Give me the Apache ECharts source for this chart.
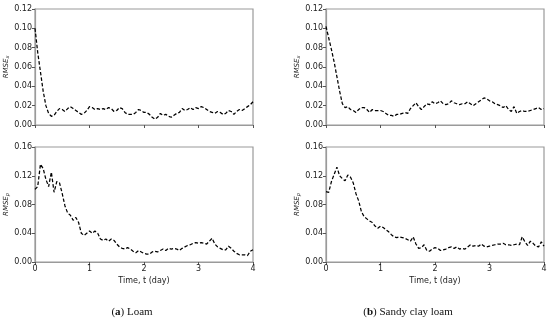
<!DOCTYPE html>
<html><head><meta charset="utf-8">
<script src="https://cdn.jsdelivr.net/npm/echarts@6/dist/echarts.min.js"></script>
<style>html,body{margin:0;padding:0;background:#fff}#c{width:550px;height:320px}</style>
</head><body><div id="c"></div>
<script>
var T = [0,0.05,0.1,0.15,0.2,0.25,0.3,0.35,0.4,0.45,0.5,0.55,0.6,0.65,0.7,0.75,0.8,0.85,0.9,0.95,
1,1.05,1.1,1.15,1.2,1.25,1.3,1.35,1.4,1.45,1.5,1.55,1.6,1.65,1.7,1.75,1.8,1.85,1.9,1.95,
2,2.05,2.1,2.15,2.2,2.25,2.3,2.35,2.4,2.45,2.5,2.55,2.6,2.65,2.7,2.75,2.8,2.85,2.9,2.95,
3,3.05,3.1,3.15,3.2,3.25,3.3,3.35,3.4,3.45,3.5,3.55,3.6,3.65,3.7,3.75,3.8,3.85,3.9,3.95,4];

var loamX = [0.100,0.075,0.055,0.035,0.020,0.012,0.009,0.010,0.014,0.017,0.016,0.014,0.017,0.019,0.017,0.015,0.013,0.011,0.012,0.015,
0.019,0.018,0.016,0.017,0.016,0.017,0.016,0.018,0.017,0.014,0.015,0.018,0.017,0.013,0.011,0.011,0.011,0.013,0.016,0.015,
0.013,0.013,0.011,0.008,0.006,0.008,0.012,0.010,0.011,0.009,0.008,0.010,0.012,0.013,0.017,0.015,0.016,0.018,0.016,0.018,
0.017,0.019,0.018,0.016,0.014,0.013,0.012,0.014,0.013,0.011,0.012,0.015,0.014,0.011,0.014,0.016,0.015,0.017,0.019,0.021,0.024];

var sandyX = [0.102,0.090,0.078,0.065,0.050,0.035,0.022,0.018,0.019,0.016,0.015,0.013,0.016,0.018,0.018,0.016,0.013,0.016,0.015,0.015,
0.015,0.014,0.012,0.010,0.010,0.009,0.011,0.011,0.012,0.013,0.012,0.017,0.020,0.023,0.019,0.016,0.019,0.022,0.021,0.024,
0.022,0.023,0.025,0.022,0.021,0.022,0.025,0.023,0.022,0.021,0.022,0.022,0.024,0.022,0.020,0.022,0.024,0.026,0.028,0.027,
0.025,0.024,0.022,0.021,0.020,0.018,0.020,0.016,0.014,0.019,0.012,0.014,0.015,0.014,0.014,0.015,0.016,0.017,0.018,0.016,0.017];

var loamP = [0.101,0.105,0.136,0.130,0.115,0.105,0.125,0.097,0.112,0.110,0.095,0.078,0.068,0.065,0.058,0.062,0.055,0.040,0.037,0.040,
0.043,0.040,0.043,0.040,0.032,0.030,0.032,0.029,0.032,0.030,0.025,0.021,0.019,0.018,0.020,0.018,0.015,0.013,0.016,0.014,
0.012,0.011,0.011,0.014,0.015,0.014,0.016,0.018,0.016,0.019,0.018,0.019,0.018,0.016,0.019,0.021,0.023,0.024,0.026,0.027,
0.026,0.027,0.026,0.025,0.029,0.033,0.025,0.021,0.019,0.017,0.017,0.022,0.019,0.015,0.012,0.010,0.010,0.010,0.009,0.015,0.017];

var sandyP = [0.098,0.097,0.112,0.122,0.132,0.120,0.116,0.113,0.121,0.118,0.110,0.095,0.085,0.070,0.063,0.060,0.057,0.055,0.050,0.047,
0.050,0.048,0.045,0.042,0.038,0.035,0.034,0.035,0.034,0.033,0.031,0.029,0.035,0.025,0.019,0.020,0.024,0.016,0.015,0.018,
0.020,0.019,0.016,0.017,0.018,0.020,0.021,0.019,0.021,0.018,0.019,0.018,0.021,0.024,0.022,0.023,0.022,0.025,0.022,0.021,
0.022,0.023,0.024,0.025,0.025,0.026,0.024,0.024,0.023,0.024,0.025,0.024,0.035,0.028,0.023,0.029,0.026,0.022,0.021,0.028,0.022];

var xTicks = [0,1,2,3,4];
var yTopMax = 0.12, yTopStep = 0.02;
var yBotMax = 0.16, yBotStep = 0.04;
var captionLetters = ['a', 'b'];
var captionTexts = ['Loam', 'Sandy clay loam'];

function pairs(v){ return T.map(function(t,i){ return [t, v[i]]; }); }

var grids = [
  {left:35, top:9, width:218, height:116},
  {left:326, top:9, width:218, height:116},
  {left:35, top:147, width:218, height:115},
  {left:326, top:147, width:218, height:115}
];
grids.forEach(function(g){ g.show = true; g.borderColor = '#9a9a9a'; g.borderWidth = 1.2; });

var axisCol = '#9a9a9a';
function xAxis(i, showLabels){
  return {
    type:'value', gridIndex:i, min:0, max:4, interval:1,
    axisLine:{show:true, lineStyle:{color:axisCol, width:1.2}},
    axisTick:{show:true, inside:false, length:3, lineStyle:{color:'#555'}},
    axisLabel:{show:showLabels, color:'#222', fontSize:8, margin:3, fontFamily:'DejaVu Sans'},
    splitLine:{show:false},
    name: showLabels ? 'Time, t (day)' : '',
    nameLocation:'middle', nameGap:15,
    nameTextStyle:{color:'#222', fontSize:8, fontFamily:'DejaVu Sans'}
  };
}
function yAxis(i, max, step, sub){
  return {
    type:'value', gridIndex:i, min:0, max:max, interval:step,
    axisLine:{show:true, lineStyle:{color:axisCol, width:1.2}},
    axisTick:{show:true, inside:false, length:3, lineStyle:{color:'#555'}},
    axisLabel:{color:'#222', fontSize:8, margin:3, fontFamily:'DejaVu Sans',
      formatter:function(v){ return v.toFixed(2); }},
    splitLine:{show:false},
    name:'{a|RMSE}{b|' + sub + '}',
    nameLocation:'middle', nameGap:23, nameRotate:90,
    nameTextStyle:{rich:{
      a:{fontSize:7, fontStyle:'italic', color:'#222', fontFamily:'DejaVu Sans'},
      b:{fontSize:5, fontStyle:'italic', color:'#222', fontFamily:'DejaVu Sans', verticalAlign:'bottom', padding:[3,0,0,0]}
    }}
  };
}

function series(i, v){
  return {type:'line', xAxisIndex:i, yAxisIndex:i, data:pairs(v), showSymbol:false, smooth:false,
    lineStyle:{color:'#000', width:1.25, type:[3.5,2]}, animation:false};
}

function caption(cx, letter, txt){
  return {type:'text', x:cx, y:312, style:{text:'({b|' + letter + '}) ' + txt, fill:'#111', fontSize:11,
    fontFamily:'Liberation Serif', align:'center', verticalAlign:'middle',
    rich:{b:{fontWeight:'bold', fontSize:11, fontFamily:'Liberation Serif', fill:'#111'}}}};
}

var chart = echarts.init(document.getElementById('c'), null, {renderer:'canvas'});
chart.setOption({
  animation:false,
  grid: grids,
  xAxis:[xAxis(0,false), xAxis(1,false), xAxis(2,true), xAxis(3,true)],
  yAxis:[yAxis(0,yTopMax,yTopStep,'x'), yAxis(1,yTopMax,yTopStep,'x'), yAxis(2,yBotMax,yBotStep,'p'), yAxis(3,yBotMax,yBotStep,'p')],
  series:[series(0,loamX), series(1,sandyX), series(2,loamP), series(3,sandyP)],
  graphic:[caption(132, captionLetters[0], captionTexts[0]), caption(408, captionLetters[1], captionTexts[1])]
});
</script>
</body></html>
